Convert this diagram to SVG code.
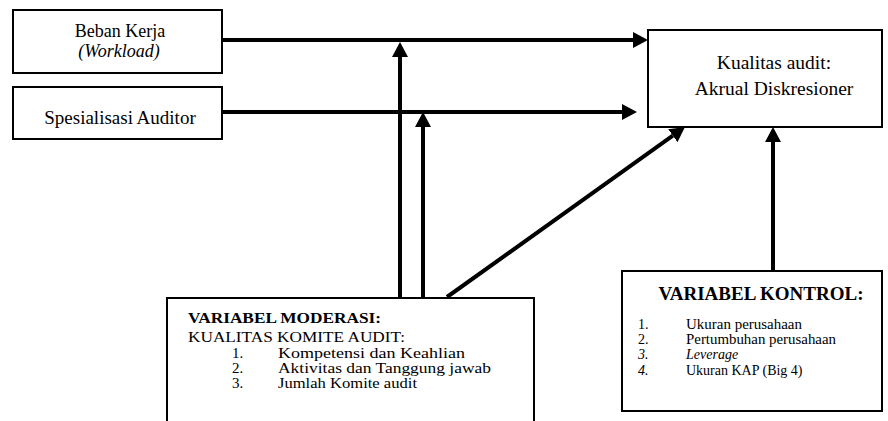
<svg xmlns="http://www.w3.org/2000/svg" width="888" height="421" viewBox="0 0 888 421">
<defs>
<marker id="ah" markerUnits="userSpaceOnUse" viewBox="0 0 15 16" refX="0" refY="8" markerWidth="15" markerHeight="16" orient="auto">
<path d="M0,0 L15,8 L0,16 z" fill="#000"/>
</marker>
</defs>
<style>
.box{fill:#fff;stroke:#000;stroke-width:2}
.t{font-family:"Liberation Serif","Times New Roman",serif;fill:#000}
.c{stroke:#000;stroke-width:4;fill:none;marker-end:url(#ah)}
</style>
<rect width="888" height="421" fill="#fff"/>
<g id="connectors">
<line class="c" x1="222" y1="40" x2="633" y2="40"/>
<line class="c" x1="222" y1="112" x2="622" y2="112"/>
<line class="c" x1="400" y1="298" x2="400" y2="57"/>
<line class="c" x1="423" y1="298" x2="423" y2="127"/>
<line class="c" x1="447" y1="297" x2="672.8" y2="135.7"/>
<line class="c" x1="773" y1="271" x2="773" y2="142"/>
</g>
<g id="beban">
<rect class="box" x="13" y="10" width="209" height="63"/>
<text class="t" x="120" y="37" font-size="18" text-anchor="middle">Beban Kerja</text>
<text class="t" x="119" y="57" font-size="18" font-style="italic" text-anchor="middle">(Workload)</text>
</g>
<g id="spesialisasi">
<rect class="box" x="13" y="87" width="209" height="52"/>
<text class="t" x="120" y="124" font-size="19" text-anchor="middle">Spesialisasi Auditor</text>
</g>
<g id="kualitas">
<rect class="box" x="648" y="30" width="234" height="97"/>
<text class="t" x="774" y="69" font-size="19.5" text-anchor="middle">Kualitas audit:</text>
<text class="t" x="774" y="95" font-size="19.5" text-anchor="middle">Akrual Diskresioner</text>
</g>
<g id="moderasi">
<path d="M167,430 L167,298 L534,298 L534,430" fill="#fff" stroke="#000" stroke-width="2"/>
<text class="t" x="188" y="323" font-size="15" font-weight="bold" textLength="193" lengthAdjust="spacingAndGlyphs">VARIABEL MODERASI:</text>
<text class="t" x="188" y="342" font-size="15" textLength="217" lengthAdjust="spacingAndGlyphs">KUALITAS KOMITE AUDIT:</text>
<text class="t" x="232" y="358" font-size="15">1.</text>
<text class="t" x="278" y="358" font-size="15" textLength="187" lengthAdjust="spacingAndGlyphs">Kompetensi dan Keahlian</text>
<text class="t" x="232" y="373" font-size="15">2.</text>
<text class="t" x="278" y="373" font-size="15" textLength="213" lengthAdjust="spacingAndGlyphs">Aktivitas dan Tanggung jawab</text>
<text class="t" x="232" y="388" font-size="15">3.</text>
<text class="t" x="278" y="388" font-size="15" textLength="139" lengthAdjust="spacingAndGlyphs">Jumlah Komite audit</text>
</g>
<g id="kontrol">
<rect class="box" x="622" y="271" width="260" height="140"/>
<text class="t" x="761" y="300" font-size="19" font-weight="bold" text-anchor="middle">VARIABEL KONTROL:</text>
<text class="t" x="638" y="329" font-size="14">1.</text>
<text class="t" x="686" y="329" font-size="14" textLength="116" lengthAdjust="spacingAndGlyphs">Ukuran perusahaan</text>
<text class="t" x="638" y="344" font-size="14">2.</text>
<text class="t" x="686" y="344" font-size="14" textLength="150" lengthAdjust="spacingAndGlyphs">Pertumbuhan perusahaan</text>
<text class="t" x="638" y="359" font-size="14" font-style="italic">3.</text>
<text class="t" x="686" y="359" font-size="14" font-style="italic">Leverage</text>
<text class="t" x="638" y="375" font-size="14" font-style="italic">4.</text>
<text class="t" x="686" y="375" font-size="14">Ukuran KAP (Big 4)</text>
</g>
</svg>
